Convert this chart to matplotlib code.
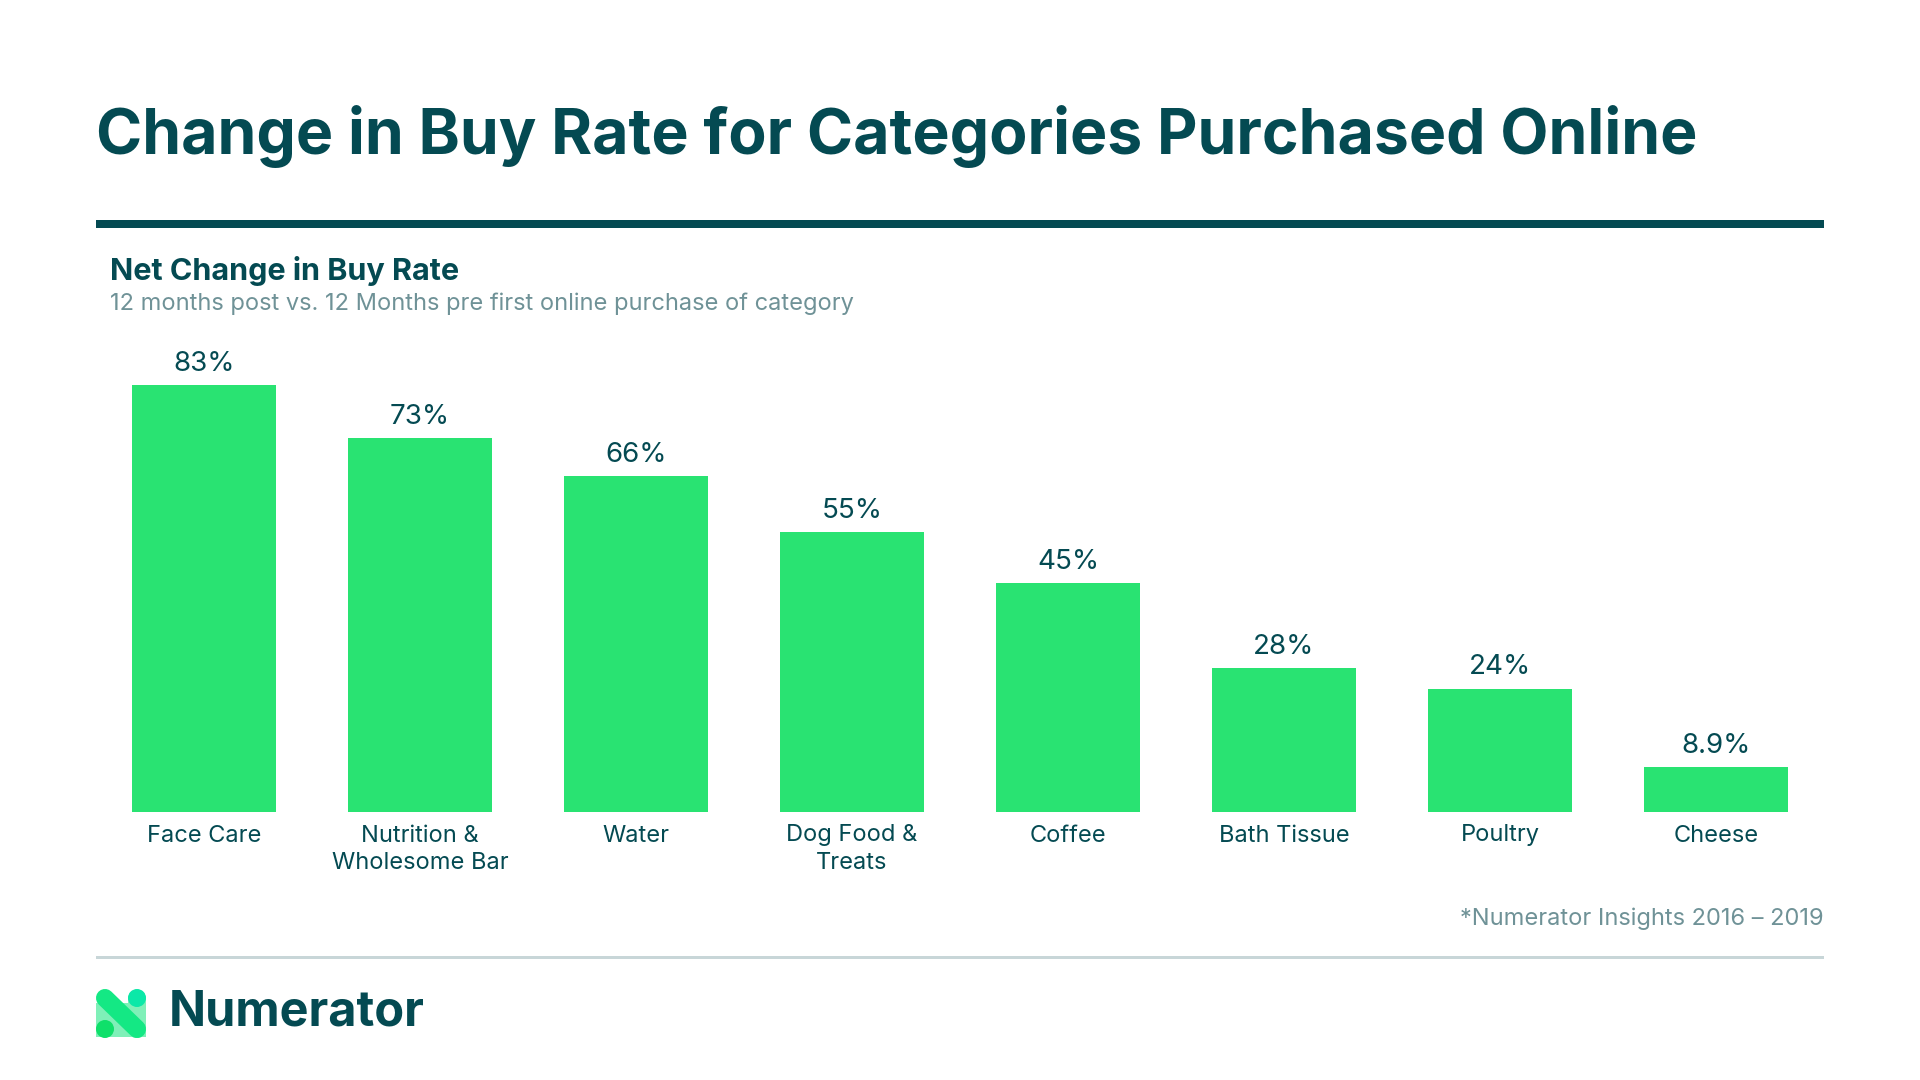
import matplotlib
matplotlib.use('Agg')
import matplotlib.pyplot as plt
from matplotlib.patches import Circle, Polygon, FancyBboxPatch

# chart data
categories = ['Face Care', 'Nutrition &\nWholesome Bar', 'Water', 'Dog Food &\nTreats',
              'Coffee', 'Bath Tissue', 'Poultry', 'Cheese']
buy_rate = [83, 72.7, 65.3, 54.4, 44.5, 28, 24, 8.7]
value_labels = ['83%', '73%', '66%', '55%', '45%', '28%', '24%', '8.9%']

DARK = '#044A52'
GREEN = '#29E372'
GREY = '#6F9297'
RULE = '#C8D6D8'

plt.rcParams['font.family'] = ['Inter', 'DejaVu Sans']

fig = plt.figure(figsize=(19.2, 10.8), dpi=100, facecolor='white')

# overlay in pixel coordinates for the page furniture
bg = fig.add_axes([0, 0, 1, 1])
bg.set_xlim(0, 1920)
bg.set_ylim(1080, 0)
bg.axis('off')

bg.text(96, 136, 'Change in Buy Rate for Categories Purchased Online', fontsize=45,
        fontweight='bold', color=DARK, va='center', ha='left')
bg.fill_between([96, 1824], 220, 228, color=DARK, lw=0)
bg.text(110, 271, 'Net Change in Buy Rate', fontsize=22, fontweight='bold', color=DARK,
        va='center', ha='left')
bg.text(110, 304, '12 months post vs. 12 Months pre first online purchase of category',
        fontsize=17, color=GREY, va='center', ha='left')
bg.text(1824, 919, '*Numerator Insights 2016 \u2013 2019', fontsize=17, color=GREY,
        va='center', ha='right')
bg.fill_between([96, 1824], 955.5, 959, color=RULE, lw=0)

# logo mark
bg.add_patch(Polygon([(96, 1003), (146, 1003), (146, 1037), (96, 1037)], closed=True,
                     facecolor='#7FF0B8', lw=0, zorder=1))
bg.add_patch(FancyBboxPatch((128, 990), 18, 48, boxstyle='round,pad=0,rounding_size=9',
                            facecolor='#7FF0B8', lw=0, zorder=1))
bg.add_patch(Circle((137, 998), 9, facecolor='#0BE8A8', lw=0, zorder=2))
bg.add_patch(Circle((105, 1029), 9, facecolor='#0FE06A', lw=0, zorder=2))
bg.plot([105, 137], [998, 1029], color='#14E884', lw=13, solid_capstyle='round', zorder=3)
bg.text(169, 1013, 'Numerator', fontsize=35, fontweight='bold', color=DARK,
        va='center', ha='left')

# bars
ax = fig.add_axes([96 / 1920, (1080 - 812) / 1080, 1728 / 1920, 463 / 1080])
ax.patch.set_alpha(0)
x = range(len(categories))
bars = ax.bar(x, buy_rate, width=0.667, color=GREEN)
ax.bar_label(bars, labels=value_labels, padding=6, fontsize=20, color=DARK)
ax.set_xlim(-0.5, 7.5)
ax.set_ylim(0, 90)
ax.set_yticks([])
ax.set_xticks(list(x))
ax.set_xticklabels(categories, fontsize=17, color=DARK, linespacing=1.35)
ax.tick_params(axis='x', length=0, pad=9)
for s in ax.spines.values():
    s.set_visible(False)

fig.savefig('out.png', dpi=100)
